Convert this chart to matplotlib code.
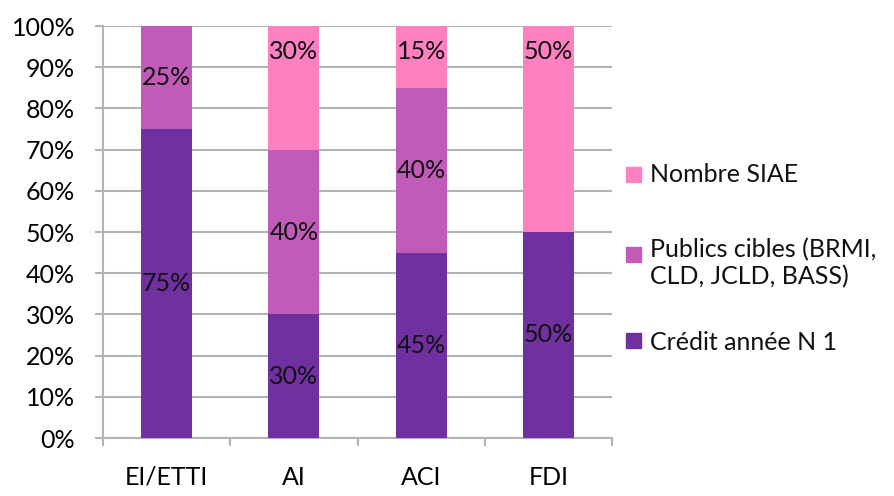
import matplotlib
matplotlib.use('Agg')
import matplotlib.pyplot as plt
from matplotlib.patches import Rectangle
from matplotlib.ticker import PercentFormatter
import numpy as np

plt.rcParams['font.family'] = ['Lato', 'DejaVu Sans']

categories = ['EI/ETTI', 'AI', 'ACI', 'FDI']
credit = [75, 30, 45, 50]
publics = [25, 40, 40, 0]
nombre = [0, 30, 15, 50]

series_names = ['Crédit année N 1', 'Publics cibles (BRMI,\nCLD, JCLD, BASS)', 'Nombre SIAE']
series_values = [credit, publics, nombre]
colors = ['#7030A0', '#C05CB8', '#FF80C0']

W, H = 895, 496
FS = 18
fig = plt.figure(figsize=(W / 100, H / 100), dpi=100)
ax = fig.add_axes([103 / W, 58 / H, 509 / W, 412 / H])

x = np.arange(len(categories))
bottom = np.zeros(len(categories))
for i, (name, vals, col) in enumerate(zip(series_names, series_values, colors)):
    vals = np.array(vals) / 100
    bars = ax.bar(x, vals, 0.4, bottom=bottom, color=col, zorder=3)
    labels = [f'{v * 100:.0f}%' if v > 0 else '' for v in vals]
    if i == len(series_values) - 1:
        # top series: labels sit at the inside end of the bar
        for rect, lab in zip(bars, labels):
            ax.annotate(lab, (rect.get_x() + rect.get_width() / 2, rect.get_y() + rect.get_height()),
                        xytext=(0, -18.5), textcoords='offset points', ha='center', va='center',
                        fontsize=FS, color='#111111', zorder=4)
    else:
        ax.bar_label(bars, labels=labels, label_type='center', fontsize=FS, color='#111111')
    bottom += vals

ax.set_xlim(-0.5, len(categories) - 0.5)
ax.set_ylim(0, 1)
ax.set_yticks(np.arange(0, 1.01, 0.1))
ax.yaxis.set_major_formatter(PercentFormatter(1.0, decimals=0))
ax.set_xticks(x)
ax.set_xticklabels(categories)
ax.set_xticks(np.arange(-0.5, len(categories), 1), minor=True)

ax.grid(axis='y', color='#B3B3B3', linewidth=1.5, zorder=0)
for s in ['top', 'right']:
    ax.spines[s].set_visible(False)
for s in ['left', 'bottom']:
    ax.spines[s].set_color('#B3B3B3')
    ax.spines[s].set_linewidth(1.5)

ax.tick_params(axis='y', length=6, width=1.5, color='#B3B3B3', pad=14, labelsize=FS)
ax.tick_params(axis='x', which='major', length=0, pad=20, labelsize=FS)
ax.tick_params(axis='x', which='minor', length=6, width=1.5, color='#B3B3B3')

# legend drawn by hand (Excel-style uneven entries)
text_y = [343, 263.5, 175]
handle_y = [340, 254.5, 174.5]
for name, col, ty, hy in zip(series_names, colors, text_y, handle_y):
    fig.patches.append(Rectangle((626 / W, 1 - (hy + 7.5) / H), 15 / W, 15 / H,
                                 transform=fig.transFigure, color=col))
    fig.text(650 / W, 1 - ty / H, name, fontsize=FS, va='center', ha='left',
             color='#111111', linespacing=1.2)

fig.savefig('out.png', dpi=100)
